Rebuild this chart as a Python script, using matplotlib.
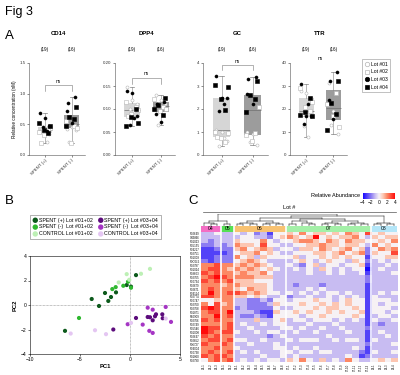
import matplotlib.pyplot as plt
import matplotlib as mpl
import numpy as np
from matplotlib.colors import LinearSegmentedColormap, Normalize
from matplotlib.lines import Line2D

plt.rcParams['font.family'] = ['Liberation Sans', 'DejaVu Sans']

# ---------------- panel A data ----------------
proteins = ['CD14', 'DPP4', 'GC', 'TTR']
groups = ['SPENT (+)', 'SPENT (-)']
counts = ['(19)', '(16)']
lot_names = ['Lot #01', 'Lot #02', 'Lot #03', 'Lot #04']
lots_plus = [1]*5 + [2]*5 + [3]*5 + [4]*4
lots_minus = [1]*4 + [2]*4 + [3]*4 + [4]*4

cd14_plus = [0.38, 0.42, 0.35, 0.40, 0.22, 0.37, 0.44, 0.33, 0.41, 0.20,
             0.68, 0.60, 0.47, 0.45, 0.39, 0.52, 0.48, 0.40, 0.36]
cd14_minus = [0.42, 0.45, 0.40, 0.22, 0.48, 0.55, 0.44, 0.20,
              0.95, 0.85, 0.72, 0.52, 0.78, 0.62, 0.58, 0.47]
dpp4_plus = [0.148, 0.12, 0.11, 0.10, 0.095, 0.115, 0.098, 0.09, 0.105, 0.085,
             0.14, 0.135, 0.085, 0.065, 0.08, 0.063, 0.07, 0.082, 0.10]
dpp4_minus = [0.13, 0.12, 0.11, 0.065, 0.105, 0.122, 0.10, 0.095,
              0.115, 0.11, 0.09, 0.072, 0.125, 0.108, 0.088, 0.10]
gc_plus = [1.1, 1.0, 0.6, 0.37, 0.75, 1.0, 0.95, 0.72, 0.55, 0.8,
           3.43, 2.5, 2.47, 1.9, 2.2, 3.04, 2.94, 2.45, 1.95]
gc_minus = [1.0, 0.9, 0.44, 0.55, 0.96, 0.85, 2.1, 0.6,
            3.38, 3.3, 2.65, 2.2, 3.2, 2.6, 2.45, 1.85]
ttr_plus = [28, 27, 25, 12.6, 7.7, 29, 23, 21, 19, 18,
            30.9, 17, 16.8, 13.5, 22, 17.4, 16.9, 18.5, 25]
ttr_minus = [31.5, 19, 9.1, 13, 27, 22, 12, 17,
             35.9, 32, 24, 15.8, 32, 22.5, 18, 11]

ylims = [1.5, 0.20, 4, 40]
yticks = [[0, 0.5, 1.0, 1.5], [0, 0.05, 0.10, 0.15, 0.20], [0, 1, 2, 3, 4], [0, 10, 20, 30, 40]]
yfmt = ['{:.1f}', '{:.2f}', '{:.0f}', '{:.0f}']
ns_levels = [(1.05, 1.14), (0.155, 0.168), (3.7, 3.9), None]

# ---------------- panel B data (PC1, PC2) ----------------
sp_plus_0102 = [(0.6, 2.44), (-3.83, 0.49), (-3.1, -0.08), (-2.5, 0.98), (-1.9, 0.65),
                (-2.17, 0.33), (-1.4, 1.03), (-0.33, 1.63), (0.1, 1.5), (-6.5, -2.11)]
sp_minus_0102 = [(-5.1, -1.06), (-1.77, 1.3), (-1.43, 1.46), (-0.67, 1.57), (-0.2, 1.9), (0.1, 1.41)]
ctrl_0102 = [(-1.13, 1.84), (-0.33, 2.52), (-0.07, 2.06), (1.1, 2.55), (2.0, 2.95)]
sp_plus_0304 = [(-1.67, -2.0), (0.6, -1.06), (1.77, -0.98), (2.27, -1.25), (2.5, -0.92),
                (2.6, -0.76), (3.23, -0.76), (3.27, -1.08), (2.0, -1.0)]
sp_minus_0304 = [(-0.23, -1.57), (1.27, -1.6), (1.77, -0.22), (2.27, -0.38), (1.93, -2.11),
                 (2.27, -2.28), (3.57, -0.16), (4.1, -1.38)]
ctrl_0304 = [(-5.93, -2.33), (-3.5, -2.06), (-2.4, -2.38), (0.1, -1.46), (3.57, -1.11)]

pca_labels = ['SPENT (+) Lot #01+02', 'SPENT (-)  Lot #01+02', 'CONTROL Lot #01+02',
              'SPENT (+) Lot #03+04', 'SPENT (-)  Lot #03+04', 'CONTROL Lot #03+04']
pca_colors = ['#0d5a1c', '#2fb82f', '#bdf0b5', '#5c0c7c', '#a535c4', '#e4c6f2']

# ---------------- panel C data ----------------
lot_groups = ['04', '05', '06', '07', '08']
group_sizes = [3, 2, 8, 13, 4]
group_colors = ['#f46ec4', '#55e055', '#f8c272', '#a4f0a8', '#b4e6f8']
proteins_c = ['P02649', 'O43866', 'P01023', 'P05155', 'P04217', 'P02751', 'P01009', 'P0C0L5',
              'P02787', 'P01024', 'P08603', 'P02765', 'P00734', 'P02679', 'P02671', 'P04114',
              'P02774', 'P00747', 'P02760', 'P02768', 'P01871', 'P10909', 'P02766', 'P02749',
              'P05546', 'P01008', 'P02647', 'P02652', 'P06727', 'P04004', 'P00738', 'P01860',
              'P02790']
# one string per protein, one digit per sample: 0=-4 ... 4=0 ... 8=+4
heat_rows = [
    '334 33 43423144 5464554546547 4544',
    '333 33 34433245 6545845455643 5455',
    '323 33 54446434 4566546546554 4546',
    '223 23 65547443 3445565545543 6454',
    '112 22 56456534 4355465456452 4656',
    '111 12 45564543 3444554564562 5447',
    '112 22 64535444 4534454545441 4455',
    '212 22 45654333 3454345443542 3434',
    '667 66 56565433 4324534434451 3343',
    '677 65 65654543 3434354343440 3433',
    '767 66 56556433 3334334343341 3334',
    '678 76 66655533 3333333333332 3333',
    '767 67 55544433 3333333333332 3333',
    '666 56 65555433 3233323333331 3333',
    '676 66 54655433 3334343333331 3333',
    '686 67 76565443 4343434434331 3434',
    '776 66 55454334 2334334343431 4333',
    '445 66 33223244 3444544345441 4443',
    '647 56 33222354 4454454545441 4344',
    '787 66 23222243 3444545544541 4443',
    '677 68 33321154 4545445454451 4434',
    '668 67 32232144 4434454444541 3443',
    '767 66 33353345 3443444343431 4334',
    '666 67 34334344 3334333433331 3233',
    '877 67 33433334 4343343343332 3333',
    '876 77 43343443 3433433334331 3433',
    '767 66 33333234 3333334333331 3343',
    '677 67 44334333 4344433434431 4333',
    '766 76 33433343 3333333333332 3334',
    '667 66 43333344 3433433333431 3333',
    '676 67 34343334 4344344333321 4334',
    '767 76 33334334 3433333334312 3333',
    '467 67 34343443 5464353436433 4545',
]

heat = np.array([[int(ch) - 4 for ch in row.replace(' ', '')] for row in heat_rows], dtype=float)
n_rows, n_cols = heat.shape

# column tree for the dendrogram (indices of samples)
tree04 = [0, [1, 2]]
tree05 = [3, 4]
tree06 = [[[5, 6], [7, 8]], [[9, 10], [11, 12]]]
tree07 = [[[13, 14], [15, [16, 17]]], [[[18, 19], [20, 21]], [[22, 23], [24, 25]]]]
tree08 = [[26, 27], [28, 29]]
col_tree = [[tree04, tree05], [[tree06, tree07], tree08]]

W, H = 400, 375
fig = plt.figure(figsize=(4, 3.75), dpi=100)


def px_axes(l, t, r, b):
    return fig.add_axes([l / W, 1 - b / H, (r - l) / W, (b - t) / H])


def fig_text(x, y, s, **kw):
    fig.text(x / W, 1 - y / H, s, **kw)


fig_text(5, 12, 'Fig 3', fontsize=9, va='center')
fig_text(5, 36, 'A', fontsize=9.5, va='center')
fig_text(5, 201, 'B', fontsize=9.5, va='center')
fig_text(188, 201, 'C', fontsize=9.5, va='center')

# ---------------- panel A ----------------
plus_sets = [cd14_plus, dpp4_plus, gc_plus, ttr_plus]
minus_sets = [cd14_minus, dpp4_minus, gc_minus, ttr_minus]
a_boxes = [(29, 85), (115, 175), (203, 268), (290, 347)]
box_colors = ['#d6d6d6', '#9c9c9c']
lot_style = {1: dict(marker='o', mfc='white', mec='#b5b5b5'),
             2: dict(marker='s', mfc='white', mec='#b5b5b5'),
             3: dict(marker='o', mfc='black', mec='black'),
             4: dict(marker='s', mfc='black', mec='black')}
jitter = [-0.18, 0.0, 0.16, -0.09, 0.08, -0.22, 0.2, -0.03, 0.12, -0.14]

for k, name in enumerate(proteins):
    l, r = a_boxes[k]
    ax = px_axes(l, 63, r, 155)
    data = [plus_sets[k], minus_sets[k]]
    bp = ax.boxplot(data, positions=[1, 2], widths=0.55, whis=(0, 100), showfliers=False,
                    patch_artist=True,
                    medianprops=dict(color='#707070', lw=0.5),
                    whiskerprops=dict(color='#808080', lw=0.4),
                    capprops=dict(color='#808080', lw=0.5),
                    boxprops=dict(lw=0))
    for patch, c in zip(bp['boxes'], box_colors):
        patch.set_facecolor(c)
    for cap in bp['caps']:
        xd = cap.get_xdata()
        m = xd.mean()
        cap.set_xdata([m - 0.08, m + 0.08])
    for gi, (vals, lots) in enumerate(zip(data, [lots_plus, lots_minus])):
        for i, (v, lot) in enumerate(zip(vals, lots)):
            ax.plot(gi + 1 + jitter[i % len(jitter)], v, ls='none', ms=2.2, mew=0.4,
                    **lot_style[lot], zorder=3)
    ax.set_xlim(0.4, 2.5)
    ax.set_ylim(0, ylims[k])
    ax.set_yticks(yticks[k])
    ax.set_yticklabels([yfmt[k].format(t) for t in yticks[k]])
    ax.set_xticks([1, 2])
    ax.set_xticklabels(groups, rotation=45, ha='right', rotation_mode='anchor')
    ax.tick_params(labelsize=3.2, length=1.5, width=0.4, pad=1, colors='#333333')
    for s in ['top', 'right']:
        ax.spines[s].set_visible(False)
    for s in ['left', 'bottom']:
        ax.spines[s].set_linewidth(0.4)
        ax.spines[s].set_color('#555555')
    ax.text(1.5, 1.32, name, transform=ax.get_xaxis_transform(), ha='center', va='center',
            fontsize=4.3, fontweight='bold')
    for xi, c in zip([1, 2], counts):
        ax.text(xi, 1.15, c, transform=ax.get_xaxis_transform(), ha='center', va='center',
                fontsize=3.3)
    if ns_levels[k] is not None:
        lo, hi = ns_levels[k]
        ax.plot([1, 1, 2, 2], [lo, hi, hi, lo], color='#777777', lw=0.4, clip_on=False)
        ax.text(1.5, hi + ylims[k] * 0.015, 'ns', ha='center', va='bottom', fontsize=3.5)
    else:
        ax.text(1.5, 1.05, 'ns', transform=ax.get_xaxis_transform(), ha='center',
                va='center', fontsize=3.5)
    if k == 0:
        ax.set_ylabel('Relative concentration (nM)', fontsize=3.3, labelpad=2)

lot_handles = [Line2D([], [], ls='none', ms=3.2, mew=0.5, **lot_style[i + 1]) for i in range(4)]
fig.legend(lot_handles, lot_names, loc='upper left', bbox_to_anchor=(362 / W, 1 - 59 / H),
           fontsize=3.6, frameon=True, fancybox=False, edgecolor='#777777',
           handletextpad=0.3, borderpad=0.5, labelspacing=0.55, handlelength=1.0,
           borderaxespad=0).get_frame().set_linewidth(0.4)

# ---------------- panel B ----------------
axb = px_axes(30, 256, 180, 354)
pca_sets = [sp_plus_0102, sp_minus_0102, ctrl_0102, sp_plus_0304, sp_minus_0304, ctrl_0304]
for pts, c, lab in zip(pca_sets, pca_colors, pca_labels):
    arr = np.array(pts)
    axb.scatter(arr[:, 0], arr[:, 1], s=9, color=c, edgecolors='none', label=lab, zorder=3)
axb.axhline(0, color='#888888', lw=0.5, ls=(0, (1, 1)))
axb.axvline(0, color='#888888', lw=0.5, ls=(0, (1, 1)))
axb.set_xlim(-10, 5)
axb.set_ylim(-4, 4)
axb.set_xticks([-10, -5, 0, 5])
axb.set_yticks([-4, -2, 0, 2, 4])
axb.tick_params(labelsize=3.6, length=1.5, width=0.4, pad=1)
for s in axb.spines.values():
    s.set_linewidth(0.4)
axb.set_xlabel('PC1', fontsize=4.2, fontweight='bold', labelpad=1)
axb.set_ylabel('PC2', fontsize=4.2, fontweight='bold', labelpad=2)
h, lab = axb.get_legend_handles_labels()
legb = fig.legend(h, lab, loc='upper left',
                  bbox_to_anchor=(30 / W, 1 - 215 / H), ncol=2, fontsize=3.8, frameon=True,
                  fancybox=False, edgecolor='#555555', handletextpad=0.2, columnspacing=1.0,
                  borderpad=0.5, labelspacing=0.35, handlelength=1.0, borderaxespad=0,
                  markerscale=1.3)
legb.get_frame().set_linewidth(0.4)

# ---------------- panel C ----------------
cmap = LinearSegmentedColormap.from_list(
    'ra', [(0, '#1808ff'), (0.25, '#8c7cf2'), (0.375, '#c8bcf2'), (0.5, '#f6f2f6'),
           (0.625, '#fcc8b4'), (0.75, '#fc8a66'), (1, '#ff0a0a')])
norm = Normalize(-4, 4)

axh = px_axes(201, 232, 397, 362)
axh.imshow(heat, cmap=cmap, norm=norm, aspect='auto', interpolation='nearest',
           extent=(-0.5, n_cols - 0.5, n_rows - 0.5, -0.5))
bounds = np.cumsum(group_sizes)[:-1] - 0.5
for bx in bounds:
    axh.axvline(bx, color='white', lw=1.2)
axh.set_yticks(range(n_rows))
axh.set_yticklabels(proteins_c, fontsize=2.0)
col_labels = []
for g, n in zip(lot_groups, group_sizes):
    col_labels += [f'{g}-{j + 1}' for j in range(n)]
axh.set_xticks(range(n_cols))
axh.set_xticklabels(col_labels, fontsize=2.0, rotation=90)
axh.tick_params(length=0, pad=1)
for s in axh.spines.values():
    s.set_visible(False)

# group colour bar
axg = px_axes(201, 226, 397, 232)
start = 0
for g, n, c in zip(lot_groups, group_sizes, group_colors):
    axg.axvspan(start - 0.5, start + n - 0.5, color=c, lw=0)
    axg.text(start + n / 2 - 0.5, 0.5, g, ha='center', va='center', fontsize=3.6)
    start += n
for bx in bounds:
    axg.axvline(bx, color='white', lw=1.2)
axg.set_xlim(-0.5, n_cols - 0.5)
axg.set_ylim(0, 1)
axg.axis('off')

# dendrogram
axd = px_axes(201, 214, 397, 226)


def draw_tree(node):
    if isinstance(node, int):
        return node, 0
    pos = [draw_tree(ch) for ch in node]
    hgt = max(p[1] for p in pos) + 1
    xs = [p[0] for p in pos]
    for x, hh in pos:
        axd.plot([x, x], [hh, hgt], color='black', lw=0.35)
    axd.plot([min(xs), max(xs)], [hgt, hgt], color='black', lw=0.35)
    return sum(xs) / len(xs), hgt


_, top = draw_tree(col_tree)
axd.set_xlim(-0.5, n_cols - 0.5)
axd.set_ylim(0, top + 0.1)
axd.axis('off')

fig_text(289, 207, 'Lot #', fontsize=4, ha='center', va='center')
fig.add_artist(Line2D([203 / W, 396 / W], [1 - 212 / H, 1 - 212 / H], color='#555555', lw=0.5))

# colour bar
cax = px_axes(363, 193, 395, 199)
cb = fig.colorbar(mpl.cm.ScalarMappable(norm=norm, cmap=cmap), cax=cax, orientation='horizontal')
cb.set_ticks([-4, -2, 0, 2, 4])
cb.ax.tick_params(labelsize=3.5, length=0, pad=1)
cb.outline.set_visible(False)
fig_text(360, 196, 'Relative Abundance', fontsize=4, ha='right', va='center')

fig.savefig('out.png', dpi=100)
